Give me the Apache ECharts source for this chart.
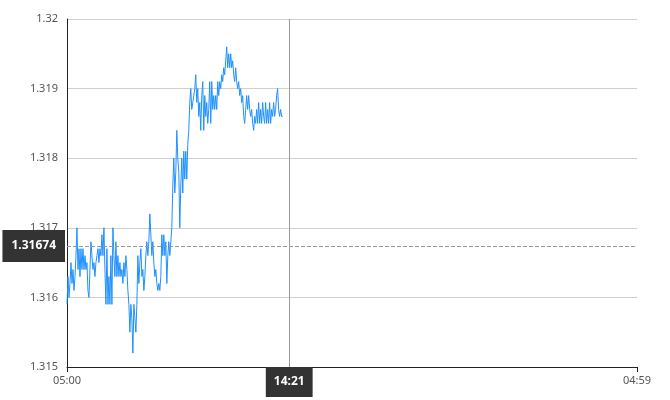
<!DOCTYPE html>
<html>
<head>
<meta charset="utf-8">
<script src="https://cdn.jsdelivr.net/npm/echarts@6/dist/echarts.min.js"></script>
<style>html,body{margin:0;padding:0;background:#fff}#c{width:670px;height:400px}</style>
</head>
<body>
<div id="c"></div>
<script>
// session: 05:00 -> 04:59 next day, minutes since 05:00
var sessionStartLabel = "05:00";
var sessionEndLabel = "04:59";
var sessionMinutes = 1439;
var sampleStepMinutes = 2.52;
var crosshairMinute = 561;      // 14:21
var crosshairPrice = 1.31674;
var yMin = 1.315, yMax = 1.32, yStep = 0.001;

var prices = [
1.3159,1.3163,1.3160,1.3162,1.3165,1.3162,1.3164,1.3161,1.3163,1.3166,
1.3170,1.3164,1.3167,1.3163,1.3167,1.3164,1.3167,1.3164,1.3166,1.3164,
1.3165,1.3161,1.3160,1.3164,1.3168,1.3166,1.3164,1.3165,1.3163,1.3165,
1.3166,1.3167,1.3165,1.3167,1.3166,1.3169,1.3166,1.3170,1.3164,1.3159,
1.3167,1.3159,1.3163,1.3159,1.3166,1.3159,1.3170,1.3166,1.3163,1.3168,
1.3163,1.3166,1.3163,1.3165,1.3163,1.3164,1.3162,1.3165,1.3163,1.3166,
1.3164,1.3161,1.3159,1.3155,1.3159,1.3157,1.3152,1.3159,1.3157,1.3155,
1.3159,1.3166,1.3162,1.3165,1.3167,1.3163,1.3164,1.3161,1.3163,1.3166,
1.3168,1.3166,1.3168,1.3172,1.3169,1.3166,1.3168,1.3165,1.3163,1.3164,
1.3162,1.3161,1.3162,1.3161,1.3163,1.3169,1.3166,1.3169,1.3166,1.3168,
1.3162,1.3166,1.3168,1.3166,1.3168,1.3170,1.3176,1.3180,1.3175,1.3178,
1.3184,1.3180,1.3178,1.3170,1.3176,1.3180,1.3175,1.3181,1.3177,1.3181,
1.3177,1.3182,1.3184,1.3188,1.3190,1.3187,1.3188,1.3188,1.3190,1.3192,
1.3188,1.3190,1.3186,1.3188,1.3184,1.3189,1.3191,1.3184,1.3189,1.3186,
1.3188,1.3185,1.3187,1.3191,1.3185,1.3191,1.3187,1.3189,1.3187,1.3189,
1.3187,1.3191,1.3189,1.3191,1.3190,1.3192,1.3191,1.3193,1.3192,1.3194,
1.3196,1.3193,1.3195,1.3193,1.3195,1.3193,1.3194,1.3192,1.3191,1.3193,
1.3191,1.3190,1.3191,1.3189,1.3190,1.3188,1.3189,1.3186,1.3185,1.3187,
1.3189,1.3187,1.3189,1.3187,1.3186,1.3187,1.3185,1.3184,1.3186,1.3185,
1.3187,1.3185,1.3188,1.3185,1.3187,1.3185,1.3188,1.3186,1.3185,1.3188,
1.3185,1.3187,1.3185,1.3188,1.3185,1.3187,1.3186,1.3188,1.3186,1.3187,
1.3189,1.3190,1.3187,1.3186,1.3187,1.3186,1.3186
];

function minuteLabel(m) {
  var t = (5 * 60 + Math.round(m)) % (24 * 60);
  var h = Math.floor(t / 60), mm = t % 60;
  return (h < 10 ? "0" : "") + h + ":" + (mm < 10 ? "0" : "") + mm;
}

var seriesData = prices.map(function (p, i) { return [i * sampleStepMinutes, p]; });

var FONT = "Noto Sans";
var chart = echarts.init(document.getElementById('c'), null, {renderer: 'canvas'});
chart.setOption({
  animation: false,
  grid: {left: 67, right: 33, top: 19, bottom: 33},
  xAxis: {
    type: 'value', min: 0, max: sessionMinutes, interval: sessionMinutes,
    axisLine: {show: true, lineStyle: {color: '#222', width: 1}},
    axisTick: {show: true, length: 5, lineStyle: {color: '#222'}},
    splitLine: {show: false},
    axisLabel: {
      color: '#555', fontFamily: FONT, fontSize: 11, margin: 8,
      formatter: function (v) { return v === 0 ? sessionStartLabel : (v === sessionMinutes ? sessionEndLabel : ''); }
    },
    axisPointer: {
      show: true, type: 'line', snap: false, value: crosshairMinute, status: 'show', triggerTooltip: false,
      lineStyle: {color: '#999', width: 1, type: 'solid'},
      label: {
        show: true, backgroundColor: '#333', color: '#fff', fontFamily: FONT, fontSize: 12, fontWeight: 'bold',
        padding: [9, 8, 9, 8], margin: 0, borderRadius: 0,
        formatter: function (p) { return minuteLabel(p.value); }
      }
    }
  },
  yAxis: {
    type: 'value', min: yMin, max: yMax, interval: yStep,
    axisLine: {show: true, lineStyle: {color: '#222', width: 1}},
    axisTick: {show: false},
    splitLine: {show: true, lineStyle: {color: '#cfcfcf', width: 1}},
    axisLabel: {color: '#555', fontFamily: FONT, fontSize: 11, margin: 9,
      formatter: function (v) { return String(parseFloat(v.toFixed(4))); }},
    axisPointer: {
      show: true, type: 'line', snap: false, value: crosshairPrice, status: 'show', triggerTooltip: false,
      lineStyle: {color: '#999', width: 1, type: 'dashed'},
      label: {
        show: true, backgroundColor: '#333', color: '#fff', fontFamily: FONT, fontSize: 12, fontWeight: 'bold',
        padding: [10, 9, 10, 9], margin: 2, borderRadius: 0,
        formatter: function (p) { return Number(p.value).toFixed(5); }
      }
    }
  },
  series: [{
    type: 'line', data: seriesData, showSymbol: false, symbol: 'none',
    lineStyle: {color: '#1E90FF', width: 1}, itemStyle: {color: '#1E90FF'},
    silent: true
  }]
});
</script>
</body>
</html>
